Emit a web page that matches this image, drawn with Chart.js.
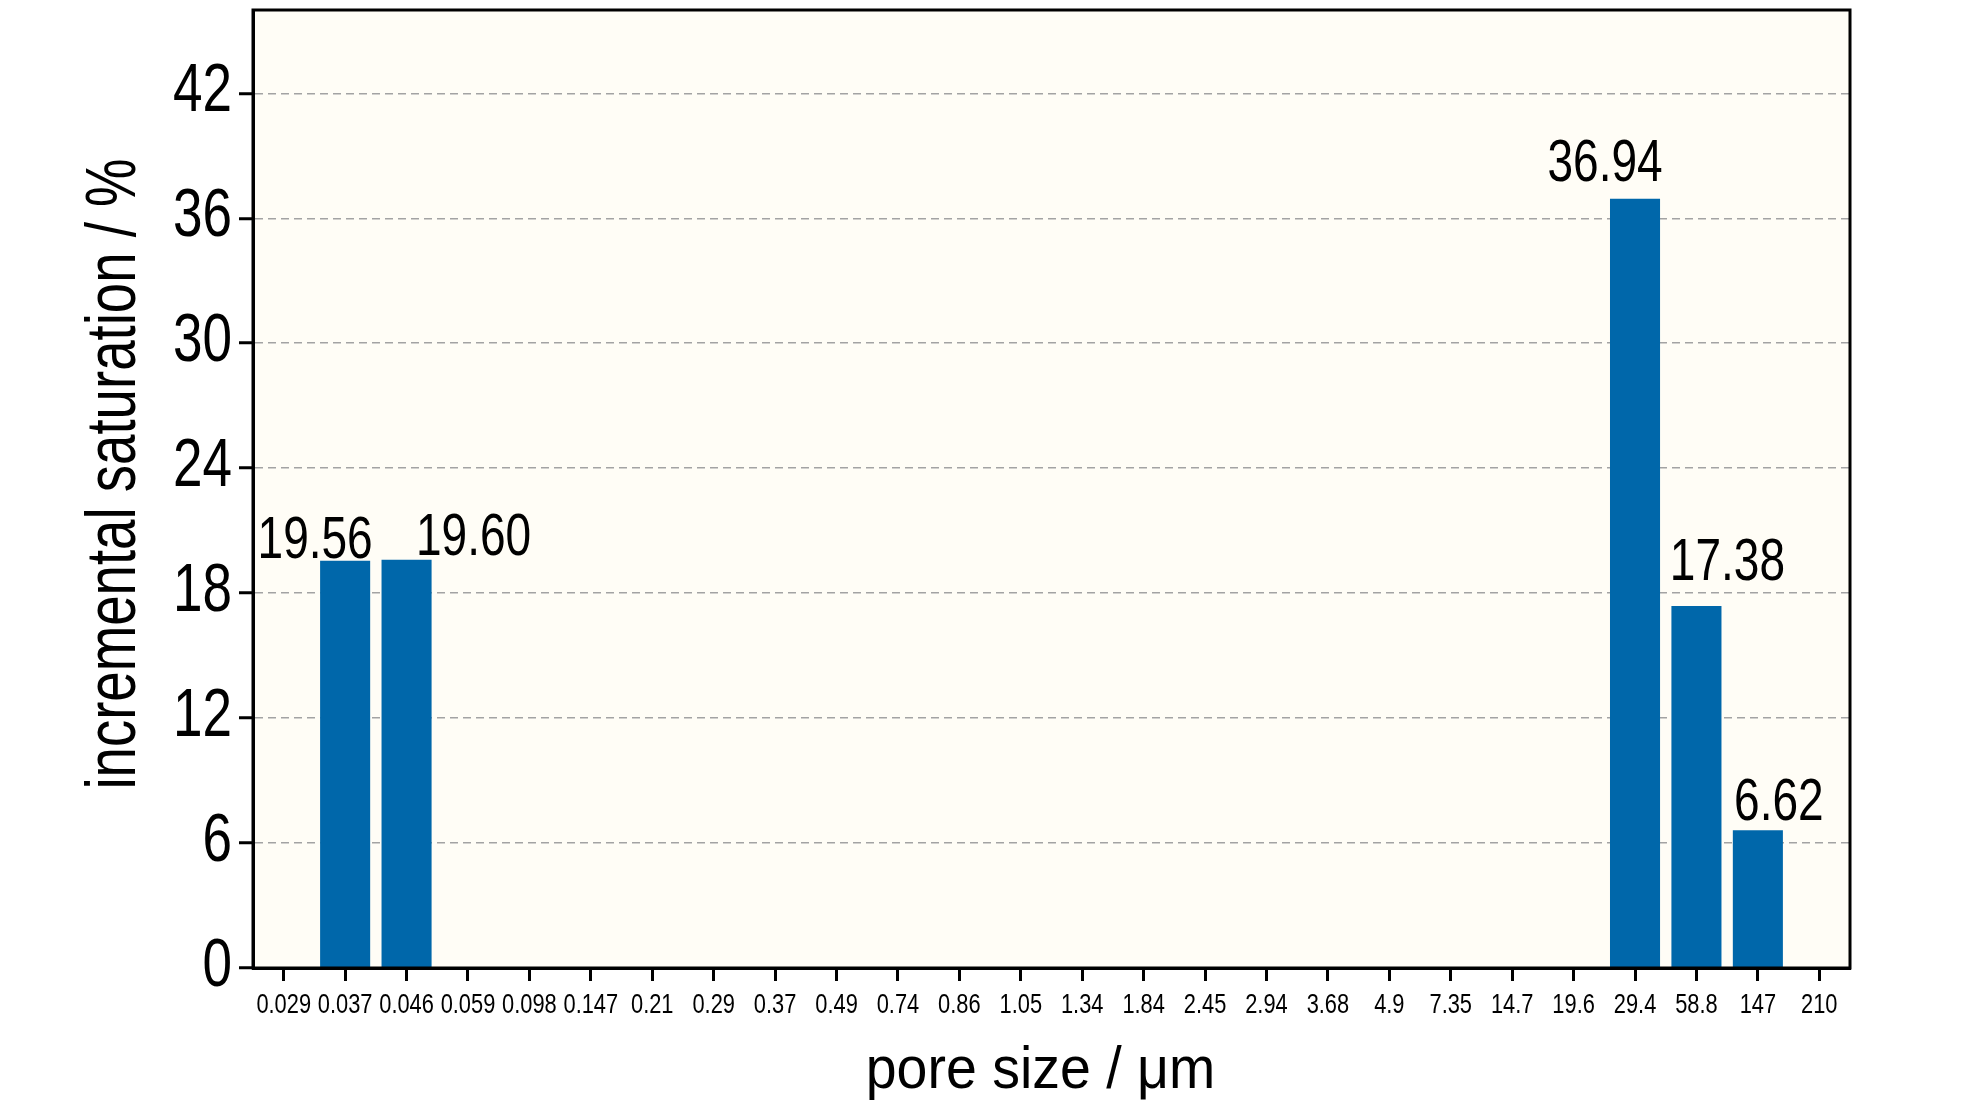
<!DOCTYPE html>
<html>
<head>
<meta charset="utf-8">
<script src="https://cdn.jsdelivr.net/npm/chart.js@4"></script>
<style>
  html, body { margin: 0; background: #fff; }
  #wrap { width: 1984px; height: 1110px; }
</style>
</head>
<body>
<div id="wrap"><canvas id="poreChart" width="1984" height="1110"></canvas></div>
<script>
// pore size classes (µm) and incremental saturation (%)
const poreSizes = ['0.029', '0.037', '0.046', '0.059', '0.098', '0.147', '0.21', '0.29', '0.37',
    '0.49', '0.74', '0.86', '1.05', '1.34', '1.84', '2.45', '2.94', '3.68', '4.9', '7.35',
    '14.7', '19.6', '29.4', '58.8', '147', '210'];
const saturation = [0, 19.56, 19.60, 0, 0, 0, 0, 0, 0, 0, 0, 0, 0, 0, 0, 0, 0, 0, 0, 0,
    0, 0, 36.94, 17.38, 6.62, 0];
const yMin = 0;
const yMax = 46;
const yStep = 6;
const yTitle = 'incremental saturation / %';
const xTitle = 'pore size / μm';

// hand-placed value labels in the original: shift of text centre / baseline from bar top
const labelNudge = {1: [-30, -3], 2: [67, -5], 22: [-30, -18], 23: [31, -26], 24: [21, -10]};

// the source uses a condensed sans; no narrow face is installed, so squeeze regular text
const squeeze = 0.78;
const sans = "'Liberation Sans', Arial, sans-serif";

function narrowText(ctx, text, x, y, size, align, rot, sx) {
    ctx.save();
    ctx.translate(x, y);
    if (rot) ctx.rotate(rot);
    ctx.scale(sx || squeeze, 1);
    ctx.font = size + 'px ' + sans;
    ctx.fillStyle = '#000';
    ctx.textAlign = align;
    ctx.textBaseline = 'alphabetic';
    ctx.fillText(text, 0, 0);
    ctx.restore();
}

const plotFrame = {
    id: 'plotFrame',
    beforeDraw(chart) {
        const { ctx, chartArea: a } = chart;
        ctx.save();
        ctx.fillStyle = '#FFFDF6';
        ctx.fillRect(a.left, a.top, a.right - a.left, a.bottom - a.top);
        ctx.restore();
    },
    afterDraw(chart) {
        const { ctx, chartArea: a } = chart;
        ctx.save();
        ctx.strokeStyle = '#000';
        ctx.lineWidth = 3;
        ctx.strokeRect(a.left, a.top, a.right - a.left, a.bottom - a.top);
        ctx.restore();
    }
};

const condensedText = {
    id: 'condensedText',
    afterDraw(chart) {
        const { ctx, chartArea: a } = chart;
        const xs = chart.scales.x, ys = chart.scales.y;

        // y tick labels
        ys.ticks.forEach(t => {
            narrowText(ctx, String(t.value), a.left - 21, ys.getPixelForValue(t.value) + 18, 68, 'right');
        });
        // x tick labels
        xs.ticks.forEach((t, i) => {
            narrowText(ctx, xs.getLabelForValue(t.value), xs.getPixelForTick(i), a.bottom + 45, 28, 'center');
        });
        // axis titles
        narrowText(ctx, yTitle, a.left - 118, (a.top + a.bottom) / 2 - 15, 70, 'center', -Math.PI / 2);
        narrowText(ctx, xTitle, (a.left + a.right) / 2 - 11, a.bottom + 120, 60, 'center', 0, 0.925);
        // value labels
        const bars = chart.getDatasetMeta(0).data;
        saturation.forEach((v, i) => {
            if (!v) return;
            const nudge = labelNudge[i] || [0, -6];
            narrowText(ctx, v.toFixed(2), bars[i].x + nudge[0], bars[i].y + nudge[1], 59, 'center');
        });
    }
};

new Chart(document.getElementById('poreChart').getContext('2d'), {
    type: 'bar',
    data: {
        labels: poreSizes,
        datasets: [{
            data: saturation,
            backgroundColor: '#0067AA',
            borderWidth: 0,
            barPercentage: 0.815,
            categoryPercentage: 1
        }]
    },
    options: {
        responsive: false,
        animation: false,
        layout: { padding: { top: 10, right: 134, left: 0, bottom: 0 } },
        plugins: { legend: { display: false }, tooltip: { enabled: false } },
        scales: {
            x: {
                afterFit: s => { s.height = 142; },
                grid: {
                    offset: false,
                    drawOnChartArea: false,
                    tickLength: 13,
                    tickWidth: 3,
                    tickColor: '#000'
                },
                border: { display: true, color: '#000', width: 3 },
                ticks: { display: false, autoSkip: false },
                title: { display: false }
            },
            y: {
                min: yMin,
                max: yMax,
                afterFit: s => { s.width = 253; },
                grid: {
                    color: '#a3a3a3',
                    lineWidth: 1.5,
                    tickLength: 14,
                    tickWidth: 3,
                    tickColor: '#000'
                },
                border: { display: true, color: '#000', width: 3, dash: [8, 5] },
                ticks: { display: false, stepSize: yStep, includeBounds: false },
                title: { display: false }
            }
        }
    },
    plugins: [plotFrame, condensedText]
});
</script>
</body>
</html>
